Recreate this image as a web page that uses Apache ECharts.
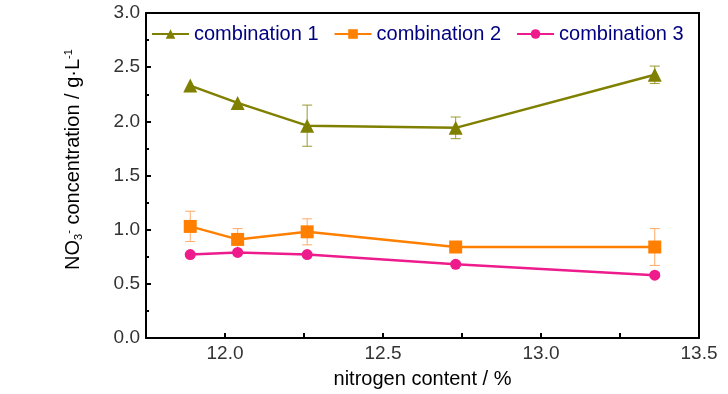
<!DOCTYPE html>
<html><head><meta charset="utf-8">
<script src="https://cdn.jsdelivr.net/npm/echarts@6/dist/echarts.min.js"></script>
<style>html,body{margin:0;padding:0;background:#fff}#c{width:728px;height:394px}</style>
</head><body><div id="c"></div>
<script>
var nitrogen = [11.89, 12.04, 12.26, 12.73, 13.36];
var combo1 = [2.33, 2.17, 1.96, 1.94, 2.43];
var combo1Err = [0, 0, 0.19, 0.10, 0.08];
var combo2 = [1.03, 0.91, 0.98, 0.84, 0.84];
var combo2Err = [0.14, 0.10, 0.12, 0, 0.17];
var combo3 = [0.77, 0.79, 0.77, 0.68, 0.58];
var combo3Err = [0, 0, 0, 0.02, 0.02];
var seriesNames = ['combination 1', 'combination 2', 'combination 3'];
var xTicks = [12.0, 12.5, 13.0, 13.5];

var FONT = "'Liberation Sans Narrow', 'Liberation Sans', Arial, sans-serif";
var colors = ['#808000', '#ff8000', '#ee1b8c'];
var errColors = ['#9a9a30', '#ffaa66', '#f070b0'];

function pairs(xs, ys) { return xs.map(function (x, i) { return [x, ys[i]]; }); }
function errData(xs, ys, es) { return xs.map(function (x, i) { return [x, ys[i] - es[i], ys[i] + es[i]]; }); }
function errSeries(data, color) {
  return {
    type: 'custom', xAxisIndex: 0, yAxisIndex: 0, silent: true, z: 1,
    data: data,
    renderItem: function (params, api) {
      var x = api.value(0), lo = api.value(1), hi = api.value(2);
      if (hi - lo <= 0) return null;
      var p1 = api.coord([x, hi]), p2 = api.coord([x, lo]);
      var w = 5;
      return {
        type: 'group', children: [
          { type: 'line', shape: { x1: p1[0], y1: p1[1], x2: p2[0], y2: p2[1] }, style: { stroke: color, lineWidth: 1 } },
          { type: 'line', shape: { x1: p1[0] - w, y1: p1[1], x2: p1[0] + w, y2: p1[1] }, style: { stroke: color, lineWidth: 1 } },
          { type: 'line', shape: { x1: p2[0] - w, y1: p2[1], x2: p2[0] + w, y2: p2[1] }, style: { stroke: color, lineWidth: 1 } }
        ]
      };
    }
  };
}

var chart = echarts.init(document.getElementById('c'), null, { renderer: 'canvas' });
var option = {
  animation: false,
  textStyle: { fontFamily: FONT },
  grid: { left: 146, right: 29, top: 13, bottom: 54 },
  legend: {
    top: 19, left: 146, itemGap: 15, itemWidth: 37, itemHeight: 12,
    textStyle: { color: '#000080', fontSize: 20, fontFamily: FONT },
    data: seriesNames
  },
  xAxis: [{
    type: 'value', min: 11.75, max: 13.5, interval: 0.25,
    axisLine: { lineStyle: { color: '#000', width: 2 } },
    axisTick: { inside: true, length: 5, lineStyle: { color: '#000', width: 2 },
      interval: function (i, v) { return Math.abs(v * 2 - Math.round(v * 2)) < 1e-6; } },
    axisLabel: { color: '#333', fontSize: 19, fontFamily: FONT, margin: 6,
      formatter: function (v) { return xTicks.some(function (t) { return Math.abs(t - v) < 1e-6; }) ? v.toFixed(1) : ''; } },
    splitLine: { show: false },
    name: 'nitrogen content / %', nameLocation: 'middle', nameGap: 31,
    nameTextStyle: { color: '#000', fontSize: 20, fontFamily: FONT }
  }, {
    type: 'value', min: 11.75, max: 13.5, interval: 0.25, position: 'bottom',
    axisLine: { show: false },
    axisTick: { inside: true, length: 3, lineStyle: { color: '#000', width: 2 } },
    axisLabel: { show: false }, splitLine: { show: false }
  }, {
    type: 'value', min: 11.75, max: 13.5, position: 'top',
    axisLine: { lineStyle: { color: '#000', width: 2 } },
    axisTick: { show: false }, axisLabel: { show: false }, splitLine: { show: false }
  }],
  yAxis: [{
    type: 'value', min: 0, max: 3, interval: 0.5,
    axisLine: { lineStyle: { color: '#000', width: 2 } },
    axisTick: { inside: true, length: 5, lineStyle: { color: '#000', width: 2 } },
    minorTick: { show: true, splitNumber: 2, length: 3, lineStyle: { color: '#000', width: 2 } },
    axisLabel: { color: '#333', fontSize: 19, fontFamily: FONT, margin: 6, formatter: function (v) { return v.toFixed(1); } },
    splitLine: { show: false },
    name: 'NO{sub|3}{sup|-} concentration / g·L{sup|-1}', nameLocation: 'middle', nameGap: 62, nameRotate: 90,
    nameTextStyle: { color: '#000', fontSize: 20, fontFamily: FONT, padding: [0, 0, 0, 32],
      rich: {
        sub: { fontSize: 11, verticalAlign: 'bottom', padding: [8, 0, 0, 0], fontFamily: FONT, color: '#000' },
        sup: { fontSize: 11, verticalAlign: 'top', padding: [0, 0, 10, 0], fontFamily: FONT, color: '#000' }
      } }
  }, {
    type: 'value', min: 0, max: 3, position: 'right',
    axisLine: { show: true, lineStyle: { color: '#000', width: 2 } },
    axisTick: { show: false }, axisLabel: { show: false }, splitLine: { show: false }
  }],
  series: [
    errSeries(errData(nitrogen, combo1, combo1Err), errColors[0]),
    errSeries(errData(nitrogen, combo2, combo2Err), errColors[1]),
    errSeries(errData(nitrogen, combo3, combo3Err), errColors[2]),
    { name: seriesNames[0], type: 'line', data: pairs(nitrogen, combo1), symbol: 'triangle', symbolSize: 14,
      itemStyle: { color: colors[0] }, lineStyle: { color: colors[0], width: 2.5 }, z: 3 },
    { name: seriesNames[1], type: 'line', data: pairs(nitrogen, combo2), symbol: 'rect', symbolSize: 13,
      itemStyle: { color: colors[1] }, lineStyle: { color: colors[1], width: 2.5 }, z: 3 },
    { name: seriesNames[2], type: 'line', data: pairs(nitrogen, combo3), symbol: 'circle', symbolSize: 11,
      itemStyle: { color: colors[2] }, lineStyle: { color: colors[2], width: 2.5 }, z: 3 }
  ]
};
chart.setOption(option);
</script></body></html>
